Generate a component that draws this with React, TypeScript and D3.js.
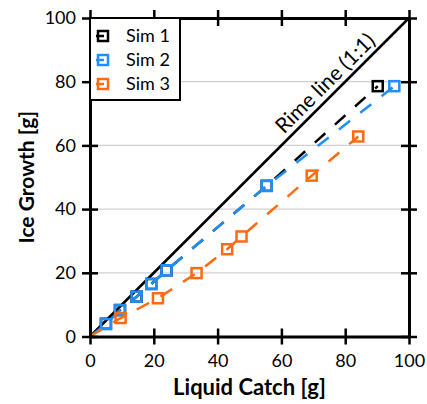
import React, { useEffect, useRef } from "react";
import * as d3 from "d3";

// values (grams)
const sim1X = [5.0, 9.4, 14.6, 19.2, 24.0, 55.4, 90.2];
const sim1Y = [4.0, 8.3, 12.5, 16.5, 20.8, 47.3, 78.6];
const sim2X = [5.0, 9.4, 14.6, 19.2, 24.0, 55.4, 95.4];
const sim2Y = [3.9, 8.3, 12.5, 16.5, 20.8, 47.3, 78.6];
const sim3X = [9.6, 21.3, 33.4, 43.0, 47.5, 69.5, 84.1];
const sim3Y = [5.8, 12.0, 19.9, 27.4, 31.4, 50.5, 62.8];
const seriesNames = ["Sim 1", "Sim 2", "Sim 3"];
const seriesColors = ["#000000", "#1E8FFF", "#FF6A10"];
const tickValues = [0, 20, 40, 60, 80, 100];

const App = () => {
  const ref = useRef<SVGSVGElement>(null);

  useEffect(() => {
    const svg = d3.select(ref.current);
    svg.selectAll("*").remove();

    const left = 90, right = 409, top = 18, bottom = 336.5;
    const x = d3.scaleLinear().domain([0, 100]).range([left, right]);
    const y = d3.scaleLinear().domain([0, 100]).range([bottom, top]);
    const font = "Lato, 'Open Sans', sans-serif";

    // gridlines
    svg.append("g")
      .selectAll("line")
      .data(tickValues.slice(1, -1))
      .enter()
      .append("line")
      .attr("x1", left).attr("x2", right)
      .attr("y1", (d) => y(d)).attr("y2", (d) => y(d))
      .attr("stroke", "#d0d0d0").attr("stroke-width", 1.2);

    // rime line
    svg.append("line")
      .attr("x1", x(0)).attr("y1", y(0))
      .attr("x2", x(100)).attr("y2", y(100))
      .attr("stroke", "#000").attr("stroke-width", 2.5);

    const angle = (Math.atan2(y(0) - y(100), x(100) - x(0)) * 180) / Math.PI;
    svg.append("text")
      .attr("transform", `translate(${x(76.6) - 4.2},${y(76.6) - 4.2}) rotate(${-angle})`)
      .attr("text-anchor", "middle")
      .attr("font-family", font).attr("font-size", 21)
      .text("Rime line (1:1)");

    const series = [
      { xs: sim1X, ys: sim1Y },
      { xs: sim2X, ys: sim2Y },
      { xs: sim3X, ys: sim3Y },
    ];
    const line = d3.line<[number, number]>().x((d) => x(d[0])).y((d) => y(d[1]));

    series.forEach((s, i) => {
      const pts: [number, number][] = [[0, 0], ...s.xs.map((v, j) => [v, s.ys[j]] as [number, number])];
      svg.append("path")
        .attr("d", line(pts))
        .attr("fill", "none")
        .attr("stroke", seriesColors[i])
        .attr("stroke-width", 2.5)
        .attr("stroke-dasharray", "14,13");
      svg.append("g")
        .selectAll("rect")
        .data(pts.slice(1))
        .enter()
        .append("rect")
        .attr("x", (d) => x(d[0]) - 5).attr("y", (d) => y(d[1]) - 5)
        .attr("width", 10).attr("height", 10)
        .attr("fill", "none")
        .attr("stroke", seriesColors[i]).attr("stroke-width", 2.5);
    });

    // axes with ticks crossing the frame
    const axisStyle = (g: any) => {
      g.select(".domain").attr("stroke-width", 3);
      g.selectAll(".tick line").attr("stroke-width", 2.5);
      g.selectAll("text").attr("font-family", font).attr("font-size", 18).attr("fill", "#000");
    };
    svg.append("g")
      .attr("transform", `translate(0,${bottom})`)
      .call(d3.axisBottom(x).tickValues(tickValues).tickSizeInner(8).tickSizeOuter(0).tickPadding(10))
      .call(axisStyle)
      .call((g: any) => g.selectAll(".tick line").attr("y1", -8));
    svg.append("g")
      .attr("transform", `translate(${left},0)`)
      .call(d3.axisLeft(y).tickValues(tickValues).tickSizeInner(8).tickSizeOuter(0).tickPadding(6))
      .call(axisStyle)
      .call((g: any) => g.selectAll(".tick line").attr("x1", 8));
    svg.append("g")
      .attr("transform", `translate(0,${top})`)
      .call(d3.axisTop(x).tickValues(tickValues).tickSizeInner(8).tickSizeOuter(0).tickFormat(() => ""))
      .call(axisStyle)
      .call((g: any) => g.selectAll(".tick line").attr("y1", 8));
    svg.append("g")
      .attr("transform", `translate(${right},0)`)
      .call(d3.axisRight(y).tickValues(tickValues).tickSizeInner(8).tickSizeOuter(0).tickFormat(() => ""))
      .call(axisStyle)
      .call((g: any) => g.selectAll(".tick line").attr("x1", -8));

    // legend
    const lg = svg.append("g");
    lg.append("rect")
      .attr("x", left).attr("y", top).attr("width", 90).attr("height", 82)
      .attr("fill", "#fff").attr("stroke", "#000").attr("stroke-width", 2);
    seriesNames.forEach((name, i) => {
      const cy = top + 18 + i * 24;
      lg.append("line")
        .attr("x1", left + 6).attr("x2", left + 14).attr("y1", cy).attr("y2", cy)
        .attr("stroke", seriesColors[i]).attr("stroke-width", 2.5);
      lg.append("rect")
        .attr("x", left + 8).attr("y", cy - 5).attr("width", 10).attr("height", 10)
        .attr("fill", "none").attr("stroke", seriesColors[i]).attr("stroke-width", 2.5);
      lg.append("text")
        .attr("x", left + 36).attr("y", cy).attr("dy", "0.35em")
        .attr("font-family", font).attr("font-size", 18)
        .text(name);
    });

    // axis titles
    svg.append("text")
      .attr("x", (left + right) / 2).attr("y", 395)
      .attr("text-anchor", "middle")
      .attr("font-family", font).attr("font-size", 22).attr("font-weight", "bold")
      .text("Liquid Catch [g]");
    svg.append("text")
      .attr("transform", `translate(34,${(top + bottom) / 2}) rotate(-90)`)
      .attr("text-anchor", "middle")
      .attr("font-family", font).attr("font-size", 21).attr("font-weight", "bold")
      .text("Ice Growth [g]");
  }, []);

  return (
    <svg
      ref={ref}
      width={427}
      height={404}
      style={{ position: "absolute", left: 0, top: 0, background: "#fff" }}
    />
  );
};

export default App;
